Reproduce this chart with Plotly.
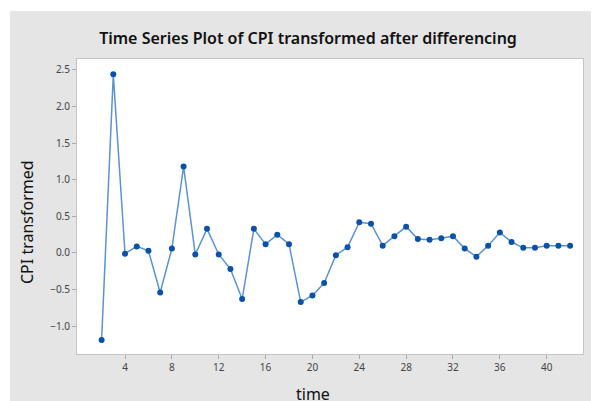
import plotly.graph_objects as go

# differenced CPI series (first observation lost to differencing)
tempo = list(range(2, 43))
cpi_transformado = [
    -1.19, 2.44, -0.01, 0.09, 0.03, -0.54, 0.06, 1.18, -0.02, 0.33,
    -0.02, -0.22, -0.63, 0.33, 0.12, 0.25, 0.12, -0.67, -0.58, -0.41,
    -0.03, 0.08, 0.42, 0.40, 0.10, 0.23, 0.36, 0.19, 0.18, 0.20,
    0.23, 0.06, -0.05, 0.10, 0.28, 0.15, 0.07, 0.07, 0.10, 0.10, 0.10,
]
ticks_x = [4, 8, 12, 16, 20, 24, 28, 32, 36, 40]
ticks_y = [-1.0, -0.5, 0.0, 0.5, 1.0, 1.5, 2.0, 2.5]

cinza = '#e5e5e5'

# page body adds 8px; figure is sized to fill the rest
W, H = 591, 393
ML, MT, MR, MB = 69, 51, 16, 47
PW, PH = W - ML - MR, H - MT - MB

fig = go.Figure()

fig.add_trace(go.Scatter(
    x=tempo,
    y=cpi_transformado,
    mode='lines+markers',
    line=dict(color='#5b93d3', width=1.5),
    marker=dict(color='#0a52a8', size=6),
    showlegend=False
))

# thin white strips at top/left like the screenshot
fig.add_shape(type='rect', xref='paper', yref='paper',
              x0=-0.3, x1=1.1, y0=(PH + MT - 3) / PH, y1=1.4,
              fillcolor='white', line_width=0, layer='below')
fig.add_shape(type='rect', xref='paper', yref='paper',
              x0=-0.3, x1=(2 - ML) / PW, y0=-0.3, y1=1.4,
              fillcolor='white', line_width=0, layer='below')

# axis titles as annotations (offset from plot centre in the original)
fig.add_annotation(text='time', xref='paper', yref='paper',
                   x=(305 - ML) / PW, y=(PH + MT - 373) / PH,
                   xanchor='center', yanchor='top', showarrow=False,
                   font=dict(size=16, color='#111111'))
fig.add_annotation(text='CPI transformed', xref='paper', yref='paper',
                   x=(19 - ML) / PW, y=(PH + MT - 214) / PH,
                   xanchor='center', yanchor='middle', textangle=-90,
                   showarrow=False, font=dict(size=16, color='#111111'))

fig.update_layout(
    width=W,
    height=H,
    margin=dict(l=ML, r=MR, t=MT, b=MB),
    paper_bgcolor=cinza,
    plot_bgcolor='white',
    font=dict(family='Noto Sans', color='#333333'),
    title=dict(
        text='Time Series Plot of CPI transformed after differencing',
        x=300 / W, xanchor='center',
        y=1 - 30 / H, yanchor='middle',
        font=dict(size=16, color='#111111', weight=600)
    ),
    xaxis=dict(
        range=[-0.1, 43.1],
        tickvals=ticks_x,
        ticks='outside', ticklen=4, tickcolor='#aaaaaa',
        tickfont=dict(size=10, color='#444444'),
        showgrid=False, zeroline=False, automargin=False,
        showline=True, mirror=True, linecolor='#c4c4c4', linewidth=1
    ),
    yaxis=dict(
        range=[-1.38, 2.65],
        tickvals=ticks_y,
        tickformat='.1f',
        ticks='outside', ticklen=4, tickcolor='#aaaaaa',
        tickfont=dict(size=10, color='#444444'),
        showgrid=False, zeroline=False, automargin=False,
        showline=True, mirror=True, linecolor='#c4c4c4', linewidth=1
    )
)

fig.write_html('out.html')
